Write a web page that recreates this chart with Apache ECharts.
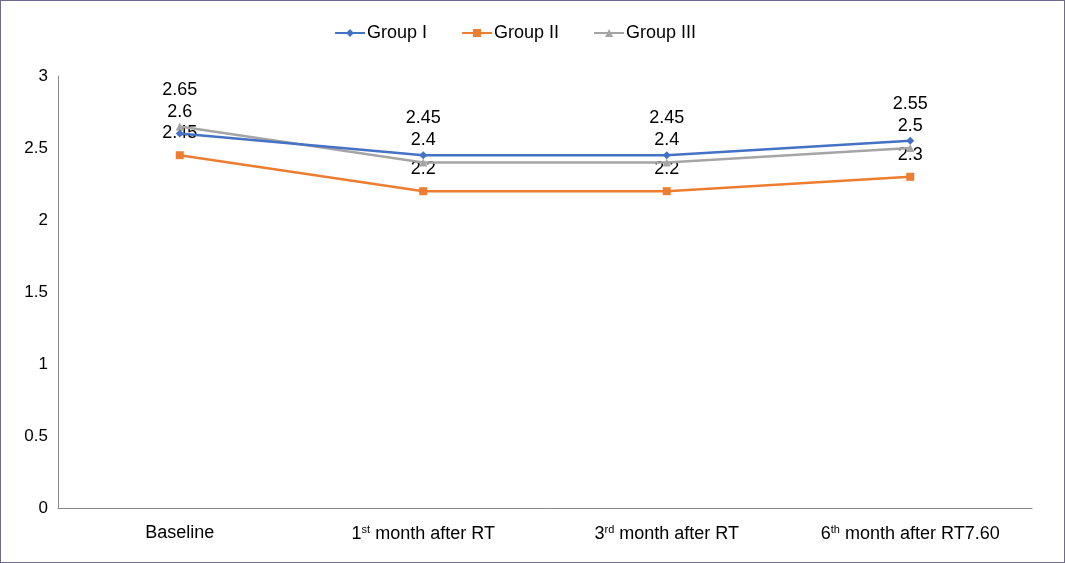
<!DOCTYPE html>
<html><head><meta charset="utf-8">
<script src="https://cdn.jsdelivr.net/npm/echarts@6/dist/echarts.min.js"></script>
<style>
html,body{margin:0;padding:0;background:#fff;}
#c{width:1063px;height:561px;border:1px solid #6f6a8e;}
</style></head>
<body><div id="c"></div>
<script>
const categories = ['Baseline', '1st month after RT', '3rd month after RT', '6th month after RT7.60'];
const seriesNames = ['Group I', 'Group II', 'Group III'];
const groupI = [2.6, 2.45, 2.45, 2.55];
const groupII = [2.45, 2.2, 2.2, 2.3];
const groupIII = [2.65, 2.4, 2.4, 2.5];
const yTicks = [0, 0.5, 1, 1.5, 2, 2.5, 3];

// label distances (px above point) to mimic the reference placement
const labelDist = [[9, 24, 24, 24], [9, 9, 9, 9], [23, 9, 9, 9]];
const colors = ['#4472C4', '#ED7D31', '#A5A5A5'];
const symbols = ['diamond', 'rect', 'triangle'];
const symSizes = [8, 8, 8];
const values = [groupI, groupII, groupIII];
const FF = 'Liberation Sans, Arial, sans-serif';

const chart = echarts.init(document.getElementById('c'));
const series = values.map((vals, i) => ({
  name: seriesNames[i],
  type: 'line',
  data: vals.map((v, j) => ({value: v, label: {distance: labelDist[i][j]}})),
  symbol: symbols[i],
  symbolSize: symSizes[i],
  showAllSymbol: true,
  lineStyle: {color: colors[i], width: 2.5},
  itemStyle: {color: colors[i]},
  label: {show: true, position: 'top', color: '#000', fontSize: 18, fontFamily: FF},
  z: i === 0 ? 4 : (i === 2 ? 3 : 2),
  animation: false
}));

function fmtCat(v) {
  const m = v.match(/^(\d)(st|nd|rd|th)(.*)$/);
  if (m) return m[1] + '{sup|' + m[2] + '}' + m[3];
  return v;
}

chart.setOption({
  backgroundColor: '#fff',
  animation: false,
  legend: {
    top: 18, left: 328,
    itemWidth: 30, itemHeight: 10, itemGap: 34,
    textStyle: {fontSize: 18, color: '#000', fontFamily: FF, padding: [0, 0, 0, -3]},
    data: seriesNames
  },
  grid: {left: 57, right: 32, top: 75, bottom: 54, containLabel: false},
  xAxis: {
    type: 'category', data: categories, boundaryGap: true,
    axisLine: {lineStyle: {color: '#888', width: 1}},
    axisTick: {show: false},
    axisLabel: {
      color: '#000', fontSize: 18, margin: 16, interval: 0,
      fontFamily: FF,
      formatter: fmtCat,
      rich: {sup: {fontSize: 11, verticalAlign: 'top', padding: [0, 0, 9, 0], color: '#000', fontFamily: FF}}
    }
  },
  yAxis: {
    type: 'value', min: yTicks[0], max: yTicks[yTicks.length - 1], interval: 0.5,
    axisLine: {show: true, lineStyle: {color: '#888', width: 1}},
    axisTick: {show: false},
    splitLine: {show: false},
    axisLabel: {color: '#000', fontSize: 17, margin: 10, fontFamily: FF}
  },
  series: series
});
</script></body></html>
